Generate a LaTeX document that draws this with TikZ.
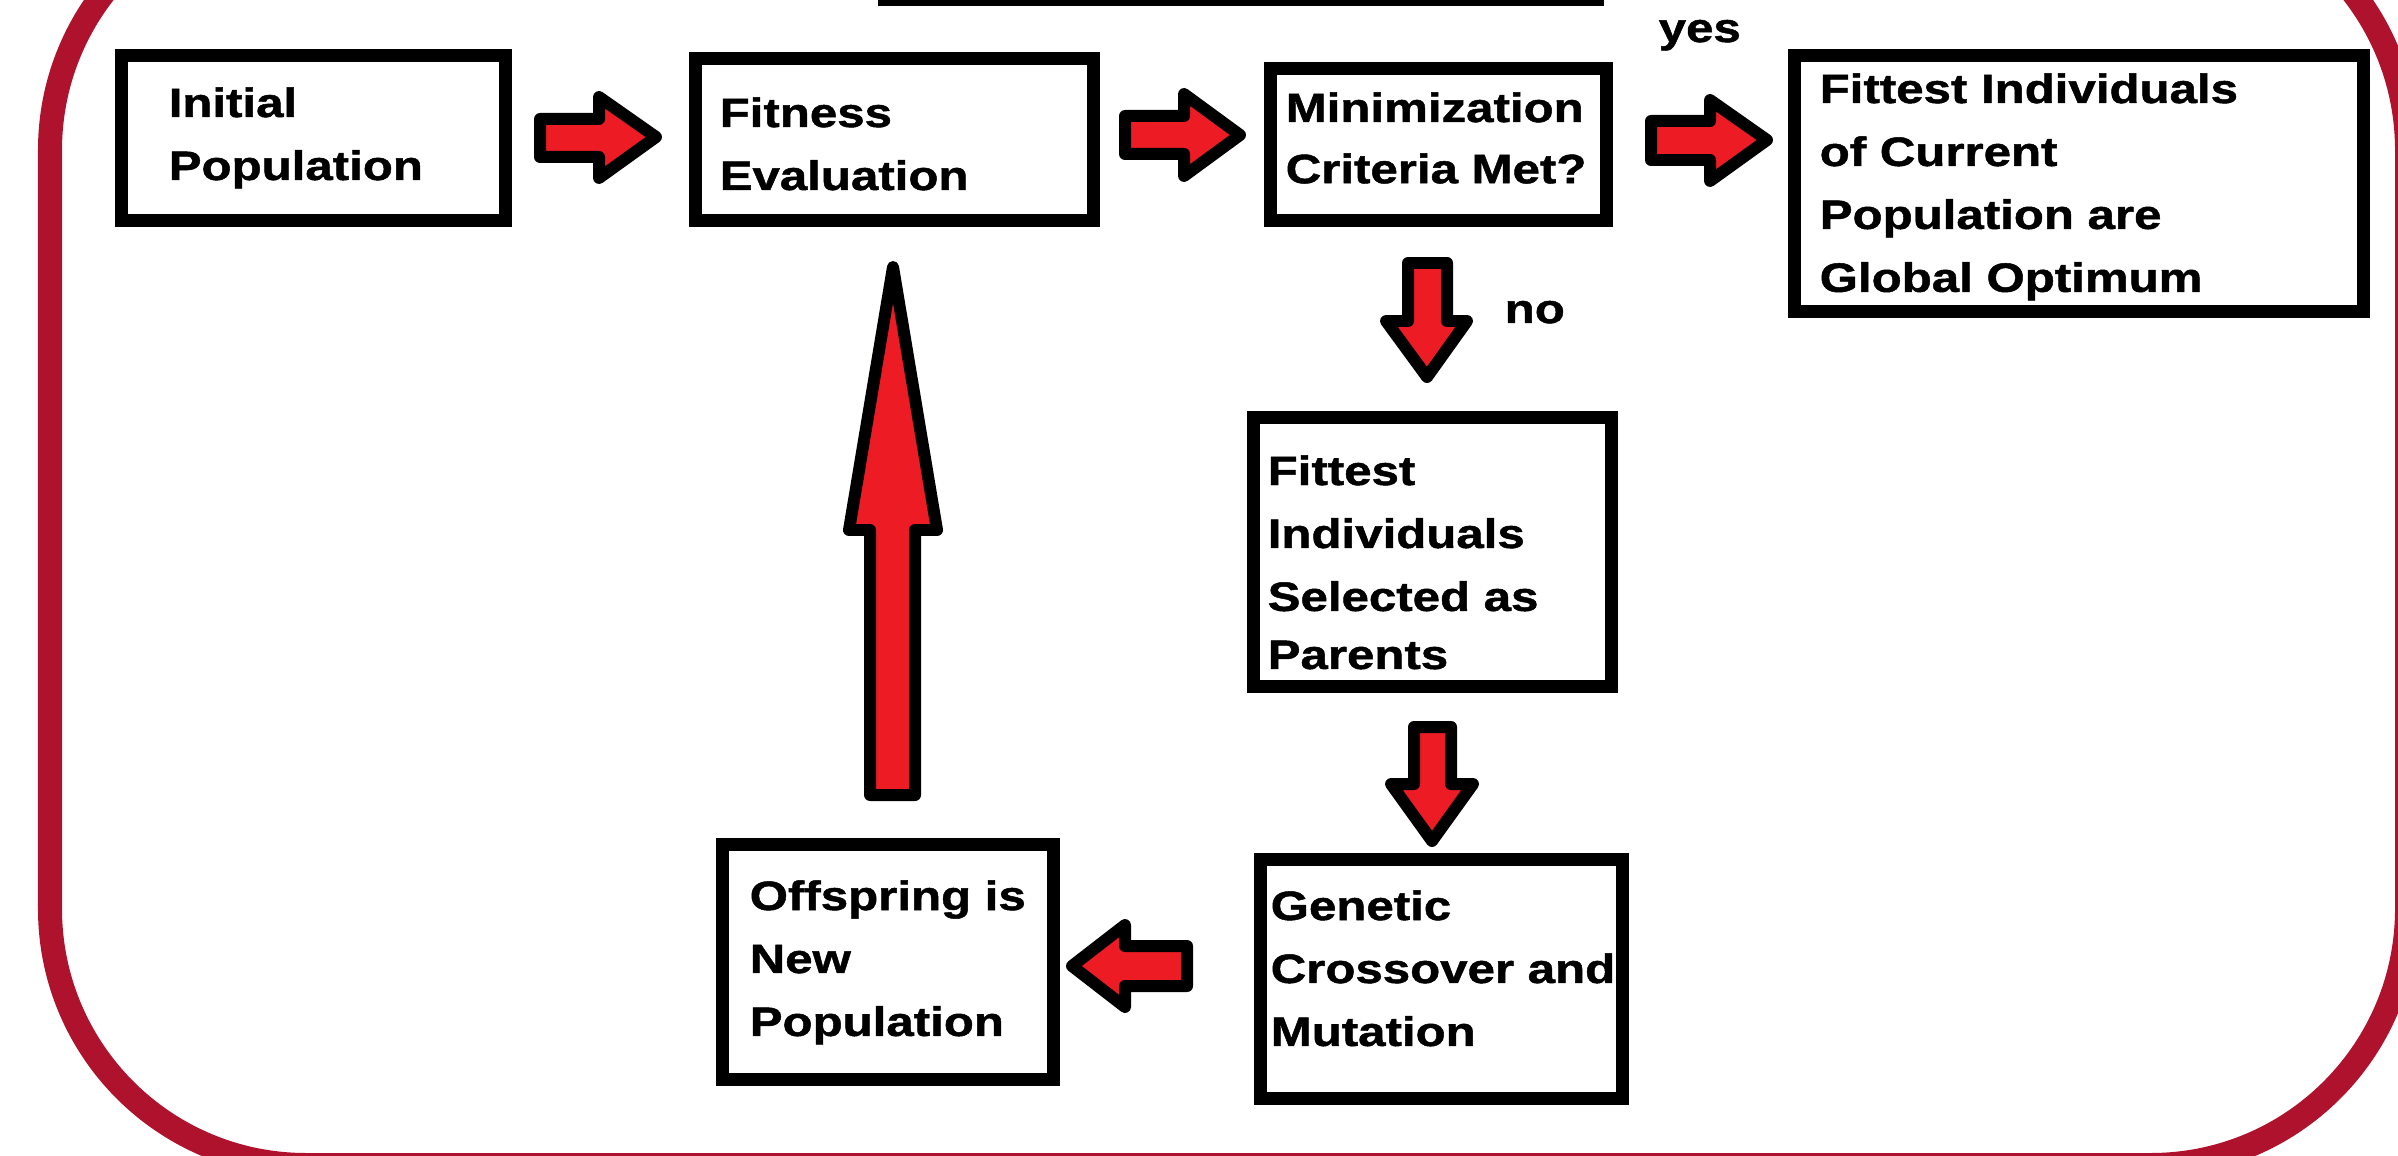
\documentclass[tikz,border=0pt]{standalone}
\usepackage{fontspec}
\setmainfont{Liberation Sans}[FakeStretch=1.2, BoldFeatures={FakeBold=1.2}]
\definecolor{framered}{RGB}{175,18,45}
\definecolor{arrowred}{RGB}{237,28,36}
\begin{document}
\begin{tikzpicture}[x=0.01cm,y=-0.01cm,
  box/.style={draw=black, line width=3.7pt, fill=white, rectangle, inner sep=0pt},
  txt/.style={font=\fontsize{11.66pt}{17.9pt}\selectfont\bfseries, anchor=base west, inner sep=0pt, text width=6cm, align=left},
  barrow/.style={draw=black, fill=arrowred, line width=3.41pt, line join=round},
  frame/.style={draw=framered, line width=6.83pt, rounded corners=2.56cm}]
\useasboundingbox (0,0) rectangle (2398,1155);
\clip (0,0) rectangle (2398,1155);
\fill[white] (0,0) rectangle (2398,1155);
% outer frame
\draw[frame] (50,-106) rectangle (2407,1165);
% cut-off bar at the top
\fill[black] (878,0) rectangle (1604,6);
% boxes
\node[box, minimum width=3.84cm, minimum height=1.65cm] (init) at (313.5,138) {};
\node[box, minimum width=3.98cm, minimum height=1.62cm] (fit) at (894.5,139.5) {};
\node[box, minimum width=3.36cm, minimum height=1.52cm] (crit) at (1438.5,144.5) {};
\node[box, minimum width=5.69cm, minimum height=2.56cm] (glob) at (2079,183.5) {};
\node[box, minimum width=3.58cm, minimum height=2.69cm] (sel) at (1432.5,552) {};
\node[box, minimum width=3.615cm, minimum height=2.39cm] (gen) at (1441.75,979) {};
\node[box, minimum width=3.305cm, minimum height=2.35cm] (off) at (887.75,962) {};
% texts
\node[txt] (tinit) at (168,117) {Initial\\Population};
\node[txt] (tfit) at (719,127) {Fitness\\Evaluation};
\node[txt] (tcrit) at (1285,122) {Minimization\\[-0.5pt]Criteria Met?};
\node[txt] (tglob) at (1819,103) {Fittest Individuals\\of Current\\Population are\\Global Optimum};
\node[txt] (tsel) at (1267,485) {Fittest\\Individuals\\Selected as\\[-1.4pt]Parents};
\node[txt] (tgen) at (1270,920) {Genetic\\Crossover and\\Mutation};
\node[txt] (toff) at (749,910) {Offspring is\\New\\Population};
\node[txt] (tyes) at (1658,42) {yes};
\node[txt] (tno) at (1504,323) {no};
% block arrows
\draw[barrow] (540,119) -- (599,119) -- (599,97) -- (656,137) -- (599,178) -- (599,157) -- (540,157) -- cycle;
\draw[barrow] (1125,116) -- (1184,116) -- (1184,94) -- (1240,135) -- (1184,176) -- (1184,154) -- (1125,154) -- cycle;
\draw[barrow] (1651,121) -- (1710,121) -- (1710,100) -- (1767,140) -- (1710,181) -- (1710,160) -- (1651,160) -- cycle;
\draw[barrow] (1408,263) -- (1447,263) -- (1447,321) -- (1467,321) -- (1427,377) -- (1386,321) -- (1408,321) -- cycle;
\draw[barrow] (1414,727) -- (1451,727) -- (1451,784) -- (1473,784) -- (1432,841) -- (1391,784) -- (1414,784) -- cycle;
\draw[barrow] (1187,946) -- (1125,946) -- (1125,925) -- (1072,966) -- (1125,1007) -- (1125,986) -- (1187,986) -- cycle;
\draw[barrow] (870,795) -- (915,795) -- (915,530) -- (937,530) -- (893,267) -- (849,530) -- (870,530) -- cycle;
\end{tikzpicture}
\end{document}
